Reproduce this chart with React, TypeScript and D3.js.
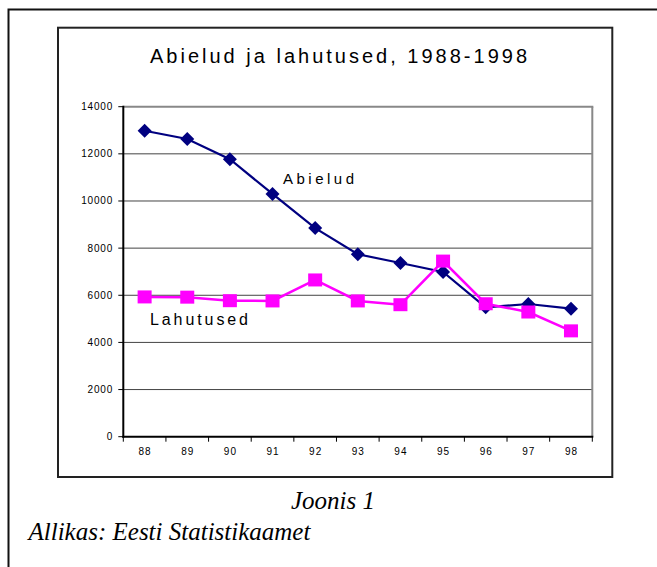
import React from "react";
import * as d3 from "d3";

const years = ["88", "89", "90", "91", "92", "93", "94", "95", "96", "97", "98"];
const abielud = [12980, 12630, 11770, 10300, 8850, 7740, 7370, 6990, 5490, 5630, 5430];
const lahutused = [5930, 5920, 5770, 5760, 6650, 5760, 5600, 7450, 5640, 5290, 4490];
const yTicks = [0, 2000, 4000, 6000, 8000, 10000, 12000, 14000];

const title = "Abielud ja lahutused, 1988-1998";
const sans = "'Liberation Sans', Arial, sans-serif";
const serif = "'Liberation Serif', 'Times New Roman', serif";

export default function App() {
  const plotLeft = 123.3;
  const plotRight = 592.3;
  const plotTop = 106.7;
  const plotBottom = 436.7;

  const x = d3.scaleBand<string>().domain(years).range([plotLeft, plotRight]).padding(0);
  const y = d3.scaleLinear().domain([0, 14000]).range([plotBottom, plotTop]);
  const cx = (c: string) => (x(c) as number) + x.bandwidth() / 2;

  const line = d3
    .line<number>()
    .x((_, i) => cx(years[i]))
    .y((v) => y(v));

  const diamond = d3.symbol().type(d3.symbolDiamond2 || d3.symbolDiamond).size(125)();

  const boundaries = [...years.map((c) => x(c) as number), plotRight];

  return (
    <div style={{ position: "fixed", left: 0, top: 0 }}>
      <svg width={657} height={567} style={{ display: "block", background: "#fff" }}>
        {/* outer frame */}
        <rect x={8.5} y={9.5} width={700} height={600} fill="none" stroke="#111" strokeWidth={2} />
        {/* inner chart box */}
        <rect x={58} y={27.7} width={554.3} height={449.3} fill="none" stroke="#222" strokeWidth={2} />

        <text
          x={150}
          y={62.5}
          fontFamily={sans}
          fontSize={20}
          textLength={377}
          lengthAdjust="spacing"
          fill="#000"
        >
          {title}
        </text>

        {/* gridlines */}
        {yTicks.filter((t) => t > 0 && t < 14000).map((t) => (
          <line key={t} x1={plotLeft} x2={plotRight} y1={y(t)} y2={y(t)} stroke="#444" strokeWidth={1} />
        ))}
        <line x1={plotLeft} x2={plotRight + 1} y1={y(14000)} y2={y(14000)} stroke="#888" strokeWidth={2} />
        <line x1={plotRight} x2={plotRight} y1={y(14000)} y2={plotBottom} stroke="#888" strokeWidth={2} />

        {/* axes */}
        <line x1={plotLeft} x2={plotLeft} y1={plotTop - 1} y2={plotBottom + 1} stroke="#000" strokeWidth={2} />
        <line x1={plotLeft - 1} x2={plotRight + 1} y1={plotBottom} y2={plotBottom} stroke="#000" strokeWidth={2} />
        {yTicks.map((t) => (
          <g key={t}>
            <line x1={plotLeft - 5} x2={plotLeft} y1={y(t)} y2={y(t)} stroke="#000" strokeWidth={1} />
            <text
              x={113}
              y={y(t) + 3.5}
              textAnchor="end"
              fontFamily={sans}
              fontSize={10}
              letterSpacing={0.8}
              fill="#000"
            >
              {t}
            </text>
          </g>
        ))}
        {boundaries.map((b, i) => (
          <line key={i} x1={b} x2={b} y1={plotBottom} y2={plotBottom + 5} stroke="#000" strokeWidth={1} />
        ))}
        {years.map((c) => (
          <text
            key={c}
            x={cx(c) + 0.5}
            y={455}
            textAnchor="middle"
            fontFamily={sans}
            fontSize={10}
            letterSpacing={1}
            fill="#000"
          >
            {c}
          </text>
        ))}

        {/* series */}
        <path d={line(abielud) || ""} fill="none" stroke="#000080" strokeWidth={2.2} />
        {abielud.map((v, i) => (
          <path key={i} d={diamond || ""} transform={`translate(${cx(years[i])},${y(v)})`} fill="#000080" />
        ))}
        <path d={line(lahutused) || ""} fill="none" stroke="#FF00FF" strokeWidth={2.5} />
        {lahutused.map((v, i) => (
          <rect key={i} x={cx(years[i]) - 7} y={y(v) - 6.5} width={14} height={13} fill="#FF00FF" />
        ))}

        {/* series labels */}
        <text x={283} y={184} fontFamily={sans} fontSize={15} textLength={71} lengthAdjust="spacing" fill="#000">
          Abielud
        </text>
        <text x={150} y={325} fontFamily={sans} fontSize={16} textLength={98} lengthAdjust="spacing" fill="#000">
          Lahutused
        </text>

        {/* footer */}
        <text x={333} y={509} textAnchor="middle" fontFamily={serif} fontStyle="italic" fontSize={25} fill="#000">
          Joonis 1
        </text>
        <text x={28.5} y={540} fontFamily={serif} fontStyle="italic" fontSize={25} fill="#000">
          Allikas: Eesti Statistikaamet
        </text>
      </svg>
    </div>
  );
}
